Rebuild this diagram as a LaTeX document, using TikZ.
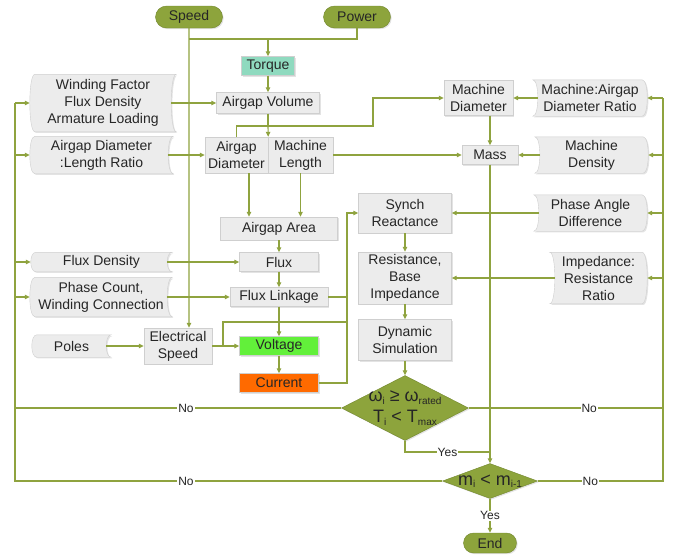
\documentclass[tikz,border=0pt]{standalone}
\usepackage{fontspec}
\setmainfont{Liberation Sans}
\usetikzlibrary{positioning,arrows.meta,shapes.geometric,shapes.misc,shadows,backgrounds}

\definecolor{linegreen}{HTML}{8FA33F}
\definecolor{termfill}{HTML}{8DA43C}
\definecolor{termline}{HTML}{71862C}
\definecolor{boxfill}{HTML}{ECECEC}
\definecolor{boxline}{HTML}{CFCFCF}
\definecolor{torquefill}{HTML}{8FDABF}
\definecolor{voltfill}{HTML}{62F03A}
\definecolor{currfill}{HTML}{FF6A00}

\newcommand{\lowtxt}[1]{\raisebox{-2.5pt}{\fontsize{10}{10}\selectfont #1}}

\tikzset{
  wire/.style={draw=linegreen, line width=1.1pt},
  arr/.style={wire, -{Triangle[length=5pt,width=4.5pt]}},
  shadowed/.style={drop shadow={shadow xshift=1.2pt, shadow yshift=-1.2pt, opacity=0.22}},
  box/.style={draw=boxline, fill=boxfill, shadowed, text=black!85, align=center,
    inner sep=0pt, font=\fontsize{14}{17}\selectfont},
  storel/.style={text=black!85, align=center, inner sep=0pt, font=\fontsize{14}{17}\selectfont},
  storer/.style={storel},
  storefill/.style={draw=boxline, fill=boxfill, shadowed},
  term/.style={rounded rectangle, draw=termline, fill=termfill, shadowed, inner sep=0pt,
    text=black!85, font=\fontsize{14}{17}\selectfont},
  decide/.style={diamond, draw=termline, fill=termfill, shadowed, inner sep=0pt},
  dtext/.style={align=center, inner sep=0pt, text=black!85, font=\fontsize{18}{21}\selectfont},
  lbl/.style={fill=white, inner sep=1pt, text=black!85, font=\fontsize{12}{12}\selectfont},
}

\begin{document}
\begin{tikzpicture}[x=1pt, y=-1pt]
\useasboundingbox (0,0) rectangle (677,555);

%% start
\node[term, minimum width=67, minimum height=22] (speed) at (189,17) {Speed};
\node[term, minimum width=67, minimum height=22] (power) at (357,17) {Power};

%% middle column
\node[box, fill=torquefill, minimum width=53, minimum height=19] (torque) at (268,66) {Torque};
\node[box, minimum width=103, minimum height=21] (av) at (268,103) {Airgap Volume};
\node[box, minimum width=63, minimum height=36] (ad) at (236.5,155) {Airgap\\Diameter};
\node[box, minimum width=65, minimum height=36] (ml) at (300.5,155) {Machine\\Length};
\node[box, minimum width=117, minimum height=23] (aa) at (279,228.5) {Airgap Area};
\node[box, minimum width=79, minimum height=19] (fl) at (279,262) {Flux};
\node[box, minimum width=98, minimum height=19] (fk) at (279,297) {Flux Linkage};
\node[box, minimum width=68, minimum height=36] (es) at (178,346) {Electrical\\Speed};
\node[box, fill=voltfill, minimum width=79, minimum height=19] (vo) at (279,346) {Voltage};
\node[box, fill=currfill, minimum width=79, minimum height=19] (cu) at (279,383) {Current};

%% left inputs
\node[storel, minimum width=146, minimum height=57] (wf) at (103,103) {Winding Factor\\Flux Density\\Armature Loading};
\node[storel, minimum width=143, minimum height=37] (ar) at (101.5,155) {Airgap Diameter\\:Length Ratio};
\node[storel, minimum width=141, minimum height=19] (fd) at (101.5,262) {Flux Density};
\node[storel, minimum width=142, minimum height=39] (pc) at (101,297) {Phase Count,\\Winding Connection};
\node[storel, minimum width=79, minimum height=22] (po) at (71.5,346) {Poles};

%% right part
\node[box, minimum width=69, minimum height=35] (md) at (478.5,98) {Machine\\Diameter};
\node[box, minimum width=56, minimum height=19] (mass) at (490,155) {Mass};
\node[storer, minimum width=114, minimum height=36] (mr) at (590,98) {Machine:Airgap\\Diameter Ratio};
\node[storer, minimum width=113, minimum height=36] (mdens) at (591.5,155) {Machine\\Density};
\node[storer, minimum width=113, minimum height=36] (pa) at (590.5,213) {Phase Angle\\Difference};
\node[storer, minimum width=97, minimum height=51] (ir) at (598.5,278) {Impedance:\\Resistance\\Ratio};
\node[box, minimum width=93, minimum height=40] (sr) at (405,213) {Synch\\Reactance};
\node[box, minimum width=93, minimum height=52] (rb) at (405,278) {Resistance,\\Base\\Impedance};
\node[box, minimum width=93, minimum height=41] (ds) at (405,340) {Dynamic\\Simulation};

%% checks
\node[decide, minimum width=127, minimum height=65] (d1) at (405,408) {};
\node[dtext] (d1t) at (d1) {ω\lowtxt{i} ≥ ω\lowtxt{rated}\\T\lowtxt{i} < T\lowtxt{max}};
\node[decide, minimum width=95, minimum height=35] (d2) at (490,481) {};
\node[dtext] (d2t) at (d2) {m\lowtxt{i} < m\lowtxt{i-1}};
\node[term, minimum width=53, minimum height=20] (stop) at (490,543) {End};

% stored data outlines
\begin{scope}[on background layer]
\foreach \n in {wf,ar,fd,pc,po}
  \draw[storefill] ([xshift=5]\n.north west) -- (\n.north east)
    .. controls ([xshift=-6.7]\n.north east) and ([xshift=-6.7]\n.south east) .. (\n.south east)
    -- ([xshift=5]\n.south west)
    .. controls ([xshift=-1.7]\n.south west) and ([xshift=-1.7]\n.north west) .. ([xshift=5]\n.north west) -- cycle;
\foreach \n in {mr,mdens,pa,ir}
  \draw[storefill] (\n.north west) -- ([xshift=-5]\n.north east)
    .. controls ([xshift=1.7]\n.north east) and ([xshift=1.7]\n.south east) .. ([xshift=-5]\n.south east)
    -- (\n.south west)
    .. controls ([xshift=6.7]\n.south west) and ([xshift=6.7]\n.north west) .. (\n.north west) -- cycle;
\end{scope}

\coordinate (top) at (268,39);
\coordinate (avj) at (268,126);
\coordinate (mdj) at (373,126);
\coordinate (sj) at (347,213);
\coordinate (vj) at (347,322);
\coordinate (ej) at (223,346);
\coordinate (yj) at (490,452);
\coordinate (ltop) at (15,103);
\coordinate (lbot) at (15,481);
\coordinate (rtop) at (663,98);
\coordinate (rbot) at (663,481);

%% connectors
\draw[wire] (power) |- (speed |- top);
\draw[arr] (top) -- (torque);
\draw[arr] (speed) -- (speed |- es.north);
\draw[arr] (torque) -- (av);
\draw[wire] (av) -- (avj);
\draw[arr] (avj) -- (ad.north east);
\draw[wire] (avj) -| (ad.north);
\draw[arr] (avj) -- (mdj) |- (md);
\draw[arr] ([xshift=12.5]ad.south) -- ([xshift=12.5]ad.south |- aa.north);
\draw[arr] (ml) -- (ml |- aa.north);
\draw[arr] (ml) -- (mass);
\draw[arr] (aa) -- (fl);
\draw[arr] (fl) -- (fk);
\draw[arr] (fk) -- (vo);
\draw[arr] (vo) -- (cu);
\draw[arr] (es) -- (vo);
\draw[wire] (ej) |- (vj);
\draw[wire] (fk) -- (fk -| vj);
\draw[arr] (cu) -| (sj) -- (sr);

\foreach \a/\b in {wf/av, ar/ad, fd/fl, pc/fk, po/es}
  \draw[arr] ([xshift=-5]\a.east) -- (\b);

\draw[arr] ([xshift=5]mr.west) -- (md);
\draw[arr] (md.south -| mass) -- (mass);
\draw[arr] ([xshift=5]mdens.west) -- (mass);
\draw[arr] ([xshift=5]pa.west) -- (sr);
\draw[arr] ([xshift=5]ir.west) -- (rb);
\draw[arr] (sr) -- (rb);
\draw[arr] (rb) -- (ds);
\draw[arr] (ds) -- (d1);
\draw[arr] (mass) -- (d2);
\draw[wire] (d1.south) |- node[lbl, pos=0.75] {Yes} (yj);
\draw[arr] (d2) -- node[lbl] {Yes} (stop);

% feedback
\draw[wire] (d2.west) -- node[lbl, pos=0.6] {No} (lbot) -- (ltop);
\draw[wire] (d1.west) -- node[lbl, pos=0.476] {No} (d1 -| lbot);
\draw[arr] (ltop) -- (wf.west);
\foreach \n in {ar,fd,pc}
  \draw[arr] (\n -| lbot) -- (\n.west);
\draw[wire] (d2.east) -- node[lbl, pos=0.42] {No} (rbot) -- (rtop);
\draw[wire] (d1.east) -- node[lbl, pos=0.62] {No} (d1 -| rbot);
\draw[arr] (rtop) -- (mr.east);
\foreach \n in {mdens,pa,ir}
  \draw[arr] (\n -| rbot) -- (\n.east);

\end{tikzpicture}
\end{document}
